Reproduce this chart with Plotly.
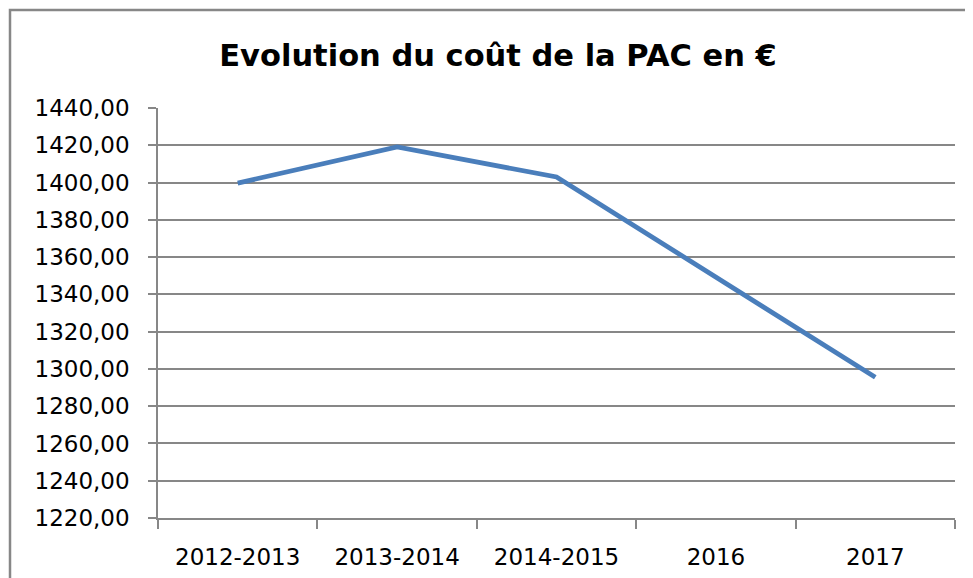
import plotly.graph_objects as go

categories = ["2012-2013", "2013-2014", "2014-2015", "2016", "2017"]
cost = [1399.7, 1419.1, 1403.0, 1349.3, 1295.5]
y_ticks = [1220, 1240, 1260, 1280, 1300, 1320, 1340, 1360, 1380, 1400, 1420, 1440]
y_tick_labels = [f"{v},00" for v in y_ticks]
title_text = "Evolution du coût de la PAC en €"

GRID = "#878787"
# page has an 8px body margin; figure coordinates are page - 8
L, T, W, H = 150, 100, 797, 410

fig = go.Figure()
fig.add_trace(go.Scatter(
    x=categories, y=cost, mode="lines",
    line=dict(color="#4a7ebb", width=4.8),
    hoverinfo="x+y", showlegend=False,
))

fig.update_layout(
    width=973, height=578,
    margin=dict(l=L, r=973 - L - W, t=T, b=578 - T - H, autoexpand=False),
    paper_bgcolor="white", plot_bgcolor="white",
    title=dict(text=title_text, x=490 / 973, xanchor="center",
               y=1 - 47 / 578, yanchor="middle", yref="container",
               font=dict(family="DejaVu Sans", size=30.5, color="black", weight="bold")),
    xaxis=dict(
        type="category", showgrid=False,
        showline=True, linecolor=GRID, linewidth=1.5,
        ticks="outside", ticklen=9, tickcolor=GRID, tickwidth=1.5,
        tickson="boundaries",
        tickfont=dict(family="DejaVu Sans", size=23, color="black"),
        ticklabelstandoff=18,
        range=[-0.5, 4.5],
    ),
    yaxis=dict(
        range=[1220, 1440], tickvals=y_ticks, ticktext=y_tick_labels,
        showgrid=True, gridcolor=GRID, gridwidth=1.5,
        showline=True, linecolor=GRID, linewidth=1.5,
        ticks="outside", ticklen=8, tickcolor=GRID, tickwidth=1.5,
        tickfont=dict(family="DejaVu Sans", size=23, color="black"),
        ticklabelstandoff=14,
        zeroline=False,
    ),
    shapes=[dict(
        type="rect", xref="paper", yref="paper",
        x0=(2 - L) / W, x1=(990 - L) / W,
        y0=(T + H - 600) / H, y1=(T + H - 2) / H,
        line=dict(color=GRID, width=2.5), fillcolor="rgba(0,0,0,0)",
        layer="below",
    )],
)

fig.write_html("out.html")
